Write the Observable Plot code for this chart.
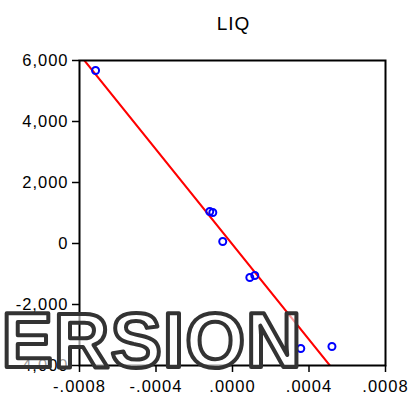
<!DOCTYPE html>
<html>
<head>
<meta charset="utf-8">
<script src="https://cdn.jsdelivr.net/npm/d3@7"></script>
<script src="https://cdn.jsdelivr.net/npm/@observablehq/plot@0.6"></script>
<style>
  html, body { margin: 0; padding: 0; background: #fff; }
  svg text { letter-spacing: 1px; }
  svg g[aria-label="chart title"] text { letter-spacing: 2.5px; }
</style>
</head>
<body>
<div id="chart"></div>
<script>
// Data
const title = "LIQ";
const pointX = [-0.000716, -0.000119, -0.000103, -0.0000511, 0.0000906, 0.0001165, 0.000357, 0.000520];
const pointY = [5672, 1049, 1016, 66, -1115, -1049, -3443, -3377];
const fitX = [-0.000774, 0.000509];
const fitY = [6000, -4000];
const xTicks = [-0.0008, -0.0004, 0, 0.0004, 0.0008];
const yTicks = [-4000, -2000, 0, 2000, 4000, 6000];
const watermark = ["ERSION"];

const points = pointX.map((x, i) => ({x, y: pointY[i]}));
const fit = fitX.map((x, i) => ({x, y: fitY[i]}));

const fmtX = d => (d < 0 ? "-" : "") + d3.format(".4f")(Math.abs(d)).replace(/^0/, "");
const fmtY = d => (d < 0 ? "-" : "") + d3.format(",")(Math.abs(d));

const chart = Plot.plot({
  width: 416,
  height: 399,
  marginLeft: 79,
  marginRight: 31,
  marginTop: 60,
  marginBottom: 34,
  style: {fontFamily: "'Liberation Sans', Arial, sans-serif", fontSize: "16.5px", color: "#000", background: "#fff"},
  x: {domain: [-0.0008, 0.0008]},
  y: {domain: [-4000, 6000]},
  marks: [
    Plot.axisX({ticks: xTicks, tickFormat: fmtX, tickSize: 7, tickPadding: 8, strokeWidth: 1.5, fontSize: 16.5, label: null}),
    Plot.axisY({ticks: yTicks, tickFormat: fmtY, tickSize: 7, tickPadding: 4, strokeWidth: 1.5, fontSize: 16.5, label: null}),
    Plot.line(fit, {x: "x", y: "y", stroke: "#ff0000", strokeWidth: 2, clip: true}),
    Plot.dot(points, {x: "x", y: "y", r: 3.5, stroke: "#0000ff", strokeWidth: 2, fill: "none"}),
    Plot.frame({stroke: "#000", strokeWidth: 2}),
    Plot.text([title], {ariaLabel: "chart title", frameAnchor: "top", dy: -31, dx: 1, lineAnchor: "bottom", fontSize: 19, text: d => d}),
    Plot.text(watermark, {
      ariaLabel: "watermark",
      frameAnchor: "bottom-left", textAnchor: "start", lineAnchor: "bottom",
      dx: -78, dy: 1, text: d => d,
      fontSize: 77, fontWeight: "bold", fontFamily: "'Liberation Sans', Arial, sans-serif",
      fill: "#fff", fillOpacity: 0.6, stroke: "#333", strokeWidth: 4, paintOrder: "normal"
    })
  ]
});
document.getElementById("chart").append(chart);
</script>
</body>
</html>
